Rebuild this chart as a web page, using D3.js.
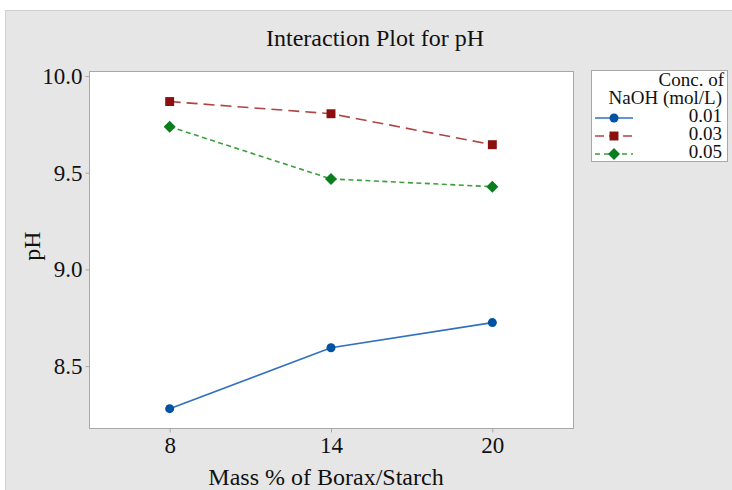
<!DOCTYPE html>
<html>
<head>
<meta charset="UTF-8">
<script src="https://d3js.org/d3.v7.min.js"></script>
<style>
body { margin: 0; background: #fff; }
text { font-family: "Liberation Serif", "DejaVu Serif", serif; fill: #111; }
</style>
</head>
<body>
<svg width="732" height="490"></svg>
<script>
// data
var massPct = [8, 14, 20];
var concLabels = ["0.01", "0.03", "0.05"];
var ph001 = [8.28, 8.595, 8.725];
var ph003 = [9.868, 9.805, 9.645];
var ph005 = [9.738, 9.468, 9.428];
var yTicks = [8.5, 9.0, 9.5, 10.0];

var diamond = {
  draw: function(ctx, size) {
    var r = Math.sqrt(size / 2);
    ctx.moveTo(0, -r); ctx.lineTo(r, 0); ctx.lineTo(0, r); ctx.lineTo(-r, 0); ctx.closePath();
  }
};

var series = [
  {key: concLabels[0], vals: ph001, line: "#3070c0", mark: "#0052a3", dash: null, legDash: null, shape: d3.symbolCircle, size: 64},
  {key: concLabels[1], vals: ph003, line: "#b04444", mark: "#8b0f0f", dash: "11,6", legDash: "9,5", shape: d3.symbolSquare, size: 80},
  {key: concLabels[2], vals: ph005, line: "#3c9e3c", mark: "#0a7d1e", dash: "5,3.5", legDash: "5,4", shape: diamond, size: 72}
];

var svg = d3.select("svg");

// grey panel
svg.append("rect")
  .attr("x", 5.5).attr("y", 10.5)
  .attr("width", 740).attr("height", 500)
  .attr("fill", "#e6e6e6").attr("stroke", "#d0d0d0");

var plot = {left: 89, right: 573, top: 71, bottom: 428};

var x = d3.scaleLinear().domain([5, 23]).range([plot.left, plot.right]);
var y = d3.scaleLinear().domain([8.18, 10.026]).range([plot.bottom, plot.top]);

svg.append("rect")
  .attr("x", plot.left + 0.5).attr("y", plot.top + 0.5)
  .attr("width", plot.right - plot.left).attr("height", plot.bottom - plot.top)
  .attr("fill", "#fff").attr("stroke", "#a8a8a8");

svg.append("text")
  .attr("x", 375).attr("y", 46)
  .attr("text-anchor", "middle")
  .attr("font-size", 24)
  .text("Interaction Plot for pH");

// y axis
var yAxis = svg.append("g")
  .attr("transform", "translate(" + (plot.left + 0.5) + ",0)")
  .call(d3.axisLeft(y).tickValues(yTicks).tickFormat(d3.format(".1f")).tickSize(4).tickPadding(3));
yAxis.select(".domain").remove();
yAxis.selectAll(".tick line").attr("stroke", "#a8a8a8");
yAxis.selectAll(".tick text").attr("font-size", 23).attr("font-family", "Liberation Serif").attr("fill", "#111");

// x axis
var xAxis = svg.append("g")
  .attr("transform", "translate(0," + (plot.bottom + 0.5) + ")")
  .call(d3.axisBottom(x).tickValues(massPct).tickFormat(d3.format("d")).tickSize(4).tickPadding(4));
xAxis.select(".domain").remove();
xAxis.selectAll(".tick line").attr("stroke", "#a8a8a8");
xAxis.selectAll(".tick text").attr("font-size", 23).attr("font-family", "Liberation Serif").attr("fill", "#111");

svg.append("text")
  .attr("x", 326).attr("y", 485)
  .attr("text-anchor", "middle")
  .attr("font-size", 24)
  .text("Mass % of Borax/Starch");

svg.append("text")
  .attr("transform", "translate(40,246) rotate(-90)")
  .attr("text-anchor", "middle")
  .attr("font-size", 24)
  .text("pH");

var line = d3.line()
  .x(function(d, i) { return x(massPct[i]); })
  .y(function(d) { return y(d); });

series.forEach(function(s) {
  svg.append("path")
    .attr("d", line(s.vals))
    .attr("fill", "none")
    .attr("stroke", s.line)
    .attr("stroke-width", 1.6)
    .attr("stroke-dasharray", s.dash);
  svg.selectAll(null)
    .data(s.vals)
    .enter().append("path")
    .attr("transform", function(d, i) { return "translate(" + x(massPct[i]) + "," + y(d) + ")"; })
    .attr("d", d3.symbol().type(s.shape).size(s.size))
    .attr("fill", s.mark);
});

// legend
var lg = svg.append("g");
lg.append("rect")
  .attr("x", 591.5).attr("y", 70.5)
  .attr("width", 136).attr("height", 91)
  .attr("fill", "#fff").attr("stroke", "#a8a8a8");
lg.append("text").attr("x", 724).attr("y", 86).attr("text-anchor", "end").attr("font-size", 19).text("Conc. of");
lg.append("text").attr("x", 722).attr("y", 104).attr("text-anchor", "end").attr("font-size", 19).text("NaOH (mol/L)");

var items = lg.selectAll("g.item")
  .data(series)
  .enter().append("g")
  .attr("class", "item")
  .attr("transform", function(d, i) { return "translate(0," + (118 + i * 18) + ")"; });

items.append("line")
  .attr("x1", 595).attr("x2", 633).attr("y1", 0).attr("y2", 0)
  .attr("stroke", function(d) { return d.line; })
  .attr("stroke-width", 1.6)
  .attr("stroke-dasharray", function(d) { return d.legDash; });
items.append("path")
  .attr("transform", "translate(614,0)")
  .attr("d", function(d) { return d3.symbol().type(d.shape).size(d.size)(); })
  .attr("fill", function(d) { return d.mark; });
items.append("text")
  .attr("x", 722).attr("y", 4)
  .attr("text-anchor", "end")
  .attr("font-size", 19)
  .text(function(d) { return d.key; });
</script>
</body>
</html>
